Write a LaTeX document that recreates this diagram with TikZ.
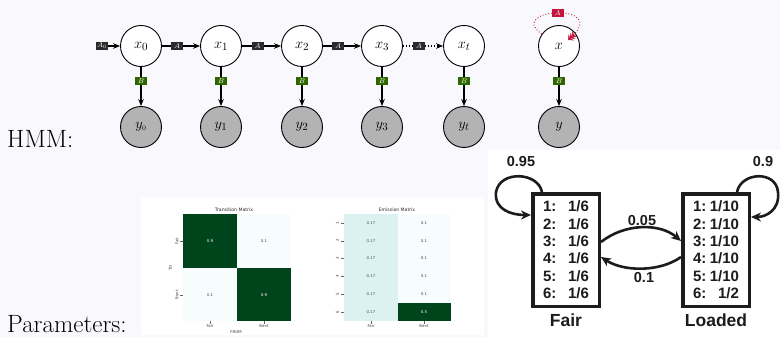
\documentclass[tikz,border=0pt]{standalone}
\usepackage{fontspec}
\newfontfamily\helv{Liberation Sans}
\newfontfamily\dejavu{DejaVu Sans}
\usetikzlibrary{arrows.meta}
\definecolor{bgc}{HTML}{F8F8FD}
\definecolor{obsgray}{HTML}{B3B3B3}
\definecolor{labdark}{HTML}{2B2B2B}
\definecolor{labgreen}{HTML}{2F6600}
\definecolor{labred}{HTML}{C4163A}
\definecolor{hdark}{HTML}{00441B}
\definecolor{hlight}{HTML}{F7FCFD}
\definecolor{hmid}{HTML}{DCF1F1}
\definecolor{diecol}{HTML}{1C1C1C}
\begin{document}
\begin{tikzpicture}[x=1pt,y=-1pt,
  bigtxt/.style={inner sep=0pt,font=\fontsize{25}{28}\selectfont},
  lat/.style={circle,draw,line width=0.9pt,minimum size=41pt,inner sep=0pt,fill=white,font=\fontsize{15}{18}\selectfont},
  obs/.style={lat,fill=obsgray},
  blab/.style={fill=labdark,text=white,font=\fontsize{7}{8}\selectfont,inner sep=0.8pt,minimum height=8.5pt,minimum width=12pt},
  glab/.style={blab,fill=labgreen},
  rlab/.style={blab,fill=labred},
  arr/.style={-{Stealth[length=7pt,width=5.5pt]},line width=1.1pt},
  rloop/.style={labred,dotted,line width=0.9pt,-{Stealth[length=4pt,width=8pt,sep=-1.5pt]Stealth[length=4pt,width=8pt,sep=-1.5pt]Stealth[length=4pt,width=8pt]}},
  hmtitle/.style={inner sep=0pt,font=\dejavu\fontsize{4.6}{5}\selectfont,text=black!85},
  hmtick/.style={inner sep=0pt,font=\dejavu\fontsize{3.9}{4.5}\selectfont,text=black!75},
  hmval/.style={inner sep=0pt,font=\dejavu\fontsize{3.9}{4.5}\selectfont,text=black!70},
  hmvalw/.style={hmval,text=white},
  tickln/.style={line width=0.3pt,black!60},
  diebox/.style={draw=diecol,line width=3.5pt,minimum width=66.5pt,minimum height=112.5pt,inner sep=0pt,align=center,
    font=\helv\bfseries\fontsize{15}{17.4}\selectfont,text=diecol},
  dielab/.style={inner sep=0pt,font=\helv\bfseries\fontsize{17.5}{20}\selectfont,text=diecol},
  dieval/.style={inner sep=0pt,font=\helv\bfseries\fontsize{14.5}{16}\selectfont,text=diecol},
  diearr/.style={draw=diecol,line width=2.6pt,-{Stealth[length=10pt,width=9pt]}}
]
\useasboundingbox (0,0) rectangle (780,337);
\fill[bgc] (0,0) rectangle (780,337);
\fill[white] (141,197) rectangle (484,335);
\fill[white] (488,150) rectangle (780,337);

% left texts
\node[bigtxt,anchor=base west] (hmmlab) at (7,147) {HMM:};
\node[bigtxt,anchor=base west] (parlab) at (7,332) {Parameters:};

% HMM chain
\node[lat] (x0) at (141,46) {$x_0$};
\node[lat] (x1) at (221,46) {$x_1$};
\node[lat] (x2) at (302,46) {$x_2$};
\node[lat] (x3) at (382,46) {$x_3$};
\node[lat] (xt) at (464,46) {$x_t$};
\node[lat] (x)  at (559,46) {$x$};
\node[obs] (y0) at (141,127) {$y_{\scriptscriptstyle 0}$};
\node[obs] (y1) at (221,127) {$y_1$};
\node[obs] (y2) at (302,127) {$y_2$};
\node[obs] (y3) at (382,127) {$y_3$};
\node[obs] (yt) at (464,127) {$y_t$};
\node[obs] (y)  at (559,127) {$y$};

\node[blab] (a0) at (102,46) {$A_0$};
\draw[arr] (a0) -- (x0);
\draw[arr] (x0) -- node[blab,pos=0.4] (l01) {$A$} (x1);
\draw[arr] (x1) -- node[blab,pos=0.4] (l12) {$A$} (x2);
\draw[arr] (x2) -- node[blab,pos=0.4] (l23) {$A$} (x3);
\draw[arr,dotted] (x3) -- node[blab,pos=0.4] (l3t) {$A$} (xt);
\foreach \a/\b in {x0/y0,x1/y1,x2/y2,x3/y3,xt/yt,x/y}{
  \draw[arr] (\a) -- node[glab,pos=0.36] (b\a) {$B$} (\b);
}
\draw[rloop] (x.145) .. controls (505,8) and (612,2) .. node[rlab,pos=0.5,solid] (lself) {$A$} ([shift={(-8pt,-6pt)}]x.35);

% Transition matrix
\fill[hdark]  (183,214) rectangle (237,268);
\fill[hlight] (237,214) rectangle (291,268);
\fill[hlight] (183,268) rectangle (237,321);
\fill[hdark]  (237,268) rectangle (291,321);
\node[hmtitle] (ttitle) at (234,210) {Transition Matrix};
\node[hmvalw] (t11) at (210,241) {0.9};
\node[hmval]  (t12) at (264,241) {0.1};
\node[hmval]  (t21) at (210,295) {0.1};
\node[hmvalw] (t22) at (264,295) {0.9};
\draw[tickln] (180,241) -- (183,241);
\draw[tickln] (180,295) -- (183,295);
\draw[tickln] (210,321) -- (210,324);
\draw[tickln] (264,321) -- (264,324);
\node[hmtick,rotate=90] (tyf) at (177,241) {Fair};
\node[hmtick,rotate=90] (tyb) at (177,295) {Bent};
\node[hmtick,rotate=90] (tto) at (170.5,268) {TO};
\node[hmtick] (txf) at (210,326.5) {Fair};
\node[hmtick] (txb) at (264,326.5) {Bent};
\node[hmtick] (tfrom) at (236,332) {FROM};

% Emission matrix
\fill[hmid]   (344,214) rectangle (397.5,321);
\fill[hlight] (397.5,214) rectangle (451,303.17);
\fill[hdark]  (397.5,303.17) rectangle (451,321);
\node[hmtitle] (etitle) at (397,210) {Emission Matrix};
\foreach \i in {1,...,6}{
  \pgfmathsetmacro{\yc}{214+17.83*(\i-0.5)}
  \node[hmval] (ef\i) at (371,\yc) {0.17};
  \draw[tickln] (341,\yc) -- (344,\yc);
  \node[hmtick,rotate=90] (ey\i) at (337.5,\yc) {\i};
}
\foreach \i in {1,...,5}{
  \pgfmathsetmacro{\yc}{214+17.83*(\i-0.5)}
  \node[hmval] (eb\i) at (424,\yc) {0.1};
}
\node[hmvalw] (eb6) at (424,312.1) {0.5};
\draw[tickln] (371,321) -- (371,324);
\draw[tickln] (424,321) -- (424,324);
\node[hmtick] (exf) at (371,326.5) {Fair};
\node[hmtick] (exb) at (424,326.5) {Bent};

% Fair / Loaded dice
\node[diebox] (fair) at (566,250) {%
  \makebox[14pt][l]{1:}\makebox[32pt][r]{1/6}\\
  \makebox[14pt][l]{2:}\makebox[32pt][r]{1/6}\\
  \makebox[14pt][l]{3:}\makebox[32pt][r]{1/6}\\
  \makebox[14pt][l]{4:}\makebox[32pt][r]{1/6}\\
  \makebox[14pt][l]{5:}\makebox[32pt][r]{1/6}\\
  \makebox[14pt][l]{6:}\makebox[32pt][r]{1/6}};
\node[diebox] (loaded) at (716,250) {%
  \makebox[14pt][l]{1:}\makebox[32pt][r]{1/10}\\
  \makebox[14pt][l]{2:}\makebox[32pt][r]{1/10}\\
  \makebox[14pt][l]{3:}\makebox[32pt][r]{1/10}\\
  \makebox[14pt][l]{4:}\makebox[32pt][r]{1/10}\\
  \makebox[14pt][l]{5:}\makebox[32pt][r]{1/10}\\
  \makebox[14pt][l]{6:}\makebox[32pt][r]{1/2}};
\node[dielab] (fairlab) at (566,320) {Fair};
\node[dielab] (loadlab) at (716,320) {Loaded};

\draw[diearr] ([xshift=-24pt]fair.north) .. controls (538,172) and (500,170) .. (496,192)
  .. controls (494,210) and (512,215) .. ([yshift=35pt]fair.west);
\draw[diearr] ([xshift=21pt]loaded.north) .. controls (741,172) and (776,170) .. (778,192)
  .. controls (780,210) and (766,217) .. ([yshift=33pt]loaded.east);
\node[dieval] (p95) at (521,162) {0.95};
\node[dieval] (p90) at (763,162) {0.9};

\draw[diearr] ([yshift=8pt]fair.east) .. controls (625,223) and (660,223) .. ([yshift=9pt]loaded.west);
\draw[diearr] ([yshift=-7pt]loaded.west) .. controls (660,272) and (624,272) .. ([yshift=-7pt]fair.east);
\node[dieval] (p05) at (642,221) {0.05};
\node[dieval] (p10) at (644,278) {0.1};
\end{tikzpicture}
\end{document}
